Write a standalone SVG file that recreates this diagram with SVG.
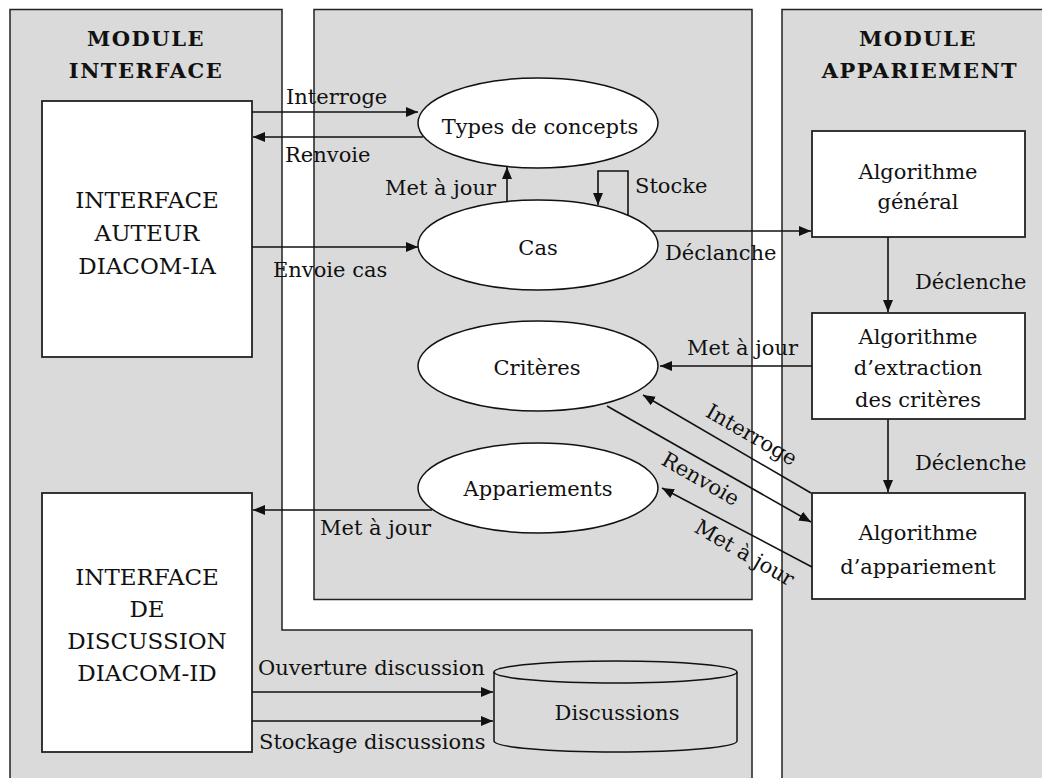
<svg xmlns="http://www.w3.org/2000/svg" width="1042" height="778" viewBox="0 0 1042 778">
<style>
.panel{fill:#dadada;stroke:#222;stroke-width:1.5}
.box{fill:#fff;stroke:#222;stroke-width:1.8}
.ell{fill:#fff;stroke:#111;stroke-width:1.5}
.cyl{fill:#dadada;stroke:#111;stroke-width:1.5}
.ln{fill:none;stroke:#111;stroke-width:1.6}
text{font-family:"DejaVu Serif","Liberation Serif",serif;fill:#111}
.t{font-size:21px}
.b{font-size:23px}
.title{font-size:21px;font-weight:bold;letter-spacing:1.5px}
.c{text-anchor:middle}
</style>
<defs>
<marker id="ah" markerWidth="13" markerHeight="11" refX="12" refY="5" orient="auto" markerUnits="userSpaceOnUse">
<path d="M0,0 L12,5 L0,10 z" fill="#111"/>
</marker>
</defs>
<rect width="1042" height="778" fill="#fff"/>
<g id="module-interface">
<path class="panel" d="M10,9.5 H282 V630 H752 V790 H10 Z"/>
<text class="title c" x="146" y="46">MODULE</text>
<text class="title c" x="146" y="78">INTERFACE</text>
</g>
<g id="module-central">
<rect class="panel" x="314" y="9.5" width="438" height="590"/>
</g>
<g id="module-appariement">
<rect class="panel" x="782" y="9.5" width="270" height="790"/>
<text class="title c" x="918" y="46">MODULE</text>
<text class="title c" x="920" y="78">APPARIEMENT</text>
</g>
<g id="interface-auteur">
<rect class="box" x="42" y="101" width="210" height="256"/>
<text class="b c" x="147" y="208">INTERFACE</text>
<text class="b c" x="147" y="241">AUTEUR</text>
<text class="b c" x="147" y="274">DIACOM-IA</text>
</g>
<g id="interface-discussion">
<rect class="box" x="42" y="493" width="210" height="259"/>
<text class="b c" x="147" y="585">INTERFACE</text>
<text class="b c" x="147" y="617">DE</text>
<text class="b c" x="147" y="649">DISCUSSION</text>
<text class="b c" x="147" y="681">DIACOM-ID</text>
</g>
<g id="types-concepts">
<ellipse class="ell" cx="538" cy="123" rx="120" ry="45"/>
<text class="t c" x="540" y="134">Types de concepts</text>
</g>
<g id="cas">
<ellipse class="ell" cx="538" cy="245" rx="120" ry="45"/>
<text class="t c" x="538" y="255">Cas</text>
</g>
<g id="criteres">
<ellipse class="ell" cx="538" cy="366" rx="120" ry="45"/>
<text class="t c" x="537" y="375">Critères</text>
</g>
<g id="appariements">
<ellipse class="ell" cx="538" cy="488" rx="120" ry="45"/>
<text class="t c" x="538" y="496">Appariements</text>
</g>
<g id="discussions">
<path class="cyl" d="M494,672 V741 A121.5,11 0 0 0 737,741 V672 A121.5,11 0 0 0 494,672 Z"/>
<path class="ln" d="M494,672 A121.5,11 0 0 0 737,672" stroke-width="1.5"/>
<text class="t c" x="617" y="720">Discussions</text>
</g>
<g id="algo-general">
<rect class="box" x="812" y="131" width="213" height="106"/>
<text class="t c" x="918" y="179">Algorithme</text>
<text class="t c" x="918" y="209">général</text>
</g>
<g id="algo-extraction">
<rect class="box" x="812" y="313" width="213" height="106"/>
<text class="t c" x="918" y="344">Algorithme</text>
<text class="t c" x="918" y="375">d’extraction</text>
<text class="t c" x="918" y="407">des critères</text>
</g>
<g id="algo-appariement">
<rect class="box" x="812" y="493" width="213" height="106"/>
<text class="t c" x="918" y="540">Algorithme</text>
<text class="t c" x="918" y="574">d’appariement</text>
</g>
<g id="connectors">
<line class="ln" x1="252" y1="112" x2="418" y2="112" marker-end="url(#ah)"/>
<line class="ln" x1="423" y1="137" x2="253" y2="137" marker-end="url(#ah)"/>
<line class="ln" x1="252" y1="247" x2="418" y2="247" marker-end="url(#ah)"/>
<line class="ln" x1="507" y1="201" x2="507" y2="167" marker-end="url(#ah)"/>
<path class="ln" d="M628,215 V171 H598 V205" marker-end="url(#ah)"/>
<line class="ln" x1="652" y1="231" x2="811" y2="231" marker-end="url(#ah)"/>
<line class="ln" x1="888" y1="237" x2="888" y2="312" marker-end="url(#ah)"/>
<line class="ln" x1="888" y1="419" x2="888" y2="492" marker-end="url(#ah)"/>
<line class="ln" x1="812" y1="366" x2="660" y2="366" marker-end="url(#ah)"/>
<line class="ln" x1="811" y1="493" x2="643" y2="395" marker-end="url(#ah)"/>
<line class="ln" x1="607" y1="406" x2="811" y2="522" marker-end="url(#ah)"/>
<line class="ln" x1="812" y1="567" x2="662" y2="488" marker-end="url(#ah)"/>
<line class="ln" x1="432" y1="510" x2="253" y2="510" marker-end="url(#ah)"/>
<line class="ln" x1="252" y1="692" x2="493" y2="692" marker-end="url(#ah)"/>
<line class="ln" x1="252" y1="721" x2="493" y2="721" marker-end="url(#ah)"/>
<text class="t" x="286" y="104">Interroge</text>
<text class="t" x="285" y="162">Renvoie</text>
<text class="t" x="496" y="195" text-anchor="end">Met à jour</text>
<text class="t" x="635" y="193">Stocke</text>
<text class="t" x="273" y="277">Envoie cas</text>
<text class="t" x="665" y="260">Déclanche</text>
<text class="t" x="915" y="289">Déclenche</text>
<text class="t" x="687" y="355">Met à jour</text>
<text class="t" x="915" y="470">Déclenche</text>
<text class="t" x="320" y="535">Met à jour</text>
<text class="t" x="258" y="675">Ouverture discussion</text>
<text class="t" x="259" y="749">Stockage discussions</text>
<text class="t c" transform="translate(748,441) rotate(30)">Interroge</text>
<text class="t c" transform="translate(697,485) rotate(30)">Renvoie</text>
<text class="t c" transform="translate(741,559) rotate(30)">Met à jour</text>
</g>
</svg>
